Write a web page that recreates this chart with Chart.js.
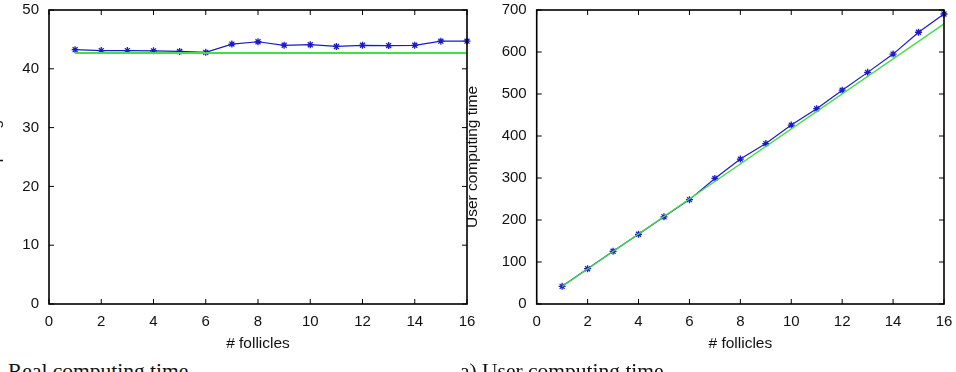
<!DOCTYPE html>
<html>
<head>
<meta charset="utf-8">
<script src="https://cdn.jsdelivr.net/npm/chart.js@4.4.1/dist/chart.umd.min.js"></script>
<style>
  html, body { margin: 0; padding: 0; background: #fff; overflow: hidden; }
  body { width: 956px; height: 372px; position: relative; }
  .box { position: absolute; top: 0; width: 493px; height: 357px; }
  .cap { position: absolute; top: 361px; font-family: "Liberation Serif", serif; font-size: 21.5px; line-height: 21.5px; color: #111; white-space: nowrap; }
</style>
</head>
<body>
<div class="box" style="left:-14px"><canvas id="realChart"></canvas></div>
<div class="box" style="left:463px"><canvas id="userChart"></canvas></div>
<div class="cap" style="left:8px">Real computing time</div>
<div class="cap" style="left:460px">a) User computing time</div>
<script>
// measured values, x = number of follicles
const follicles = [1, 2, 3, 4, 5, 6, 7, 8, 9, 10, 11, 12, 13, 14, 15, 16];
const realTime = [43.25, 43.1, 43.1, 43.05, 42.95, 42.8, 44.2, 44.6, 44.0, 44.1, 43.8, 44.0, 43.95, 44.0, 44.7, 44.7];
const userTime = [42, 84, 125.5, 166, 207.5, 248.5, 299, 345, 382, 426, 465, 509, 551.5, 595, 647, 690.5];

// reference lines (green), given by their end points
const refX = [1, 16];
const realRef = [42.7, 42.7];
const userRef = [41.7, 667];

Chart.defaults.font.family = "'Liberation Sans', Arial, sans-serif";
Chart.defaults.font.size = 15;
Chart.defaults.color = '#111';

// gnuplot style frame with inward ticks
const framePlugin = {
  id: 'frame',
  afterDraw(chart) {
    const { ctx, chartArea: a, scales } = chart;
    ctx.save();
    ctx.strokeStyle = '#000';
    ctx.lineWidth = 1;
    ctx.beginPath();
    scales.x.ticks.forEach(t => {
      const px = scales.x.getPixelForValue(t.value);
      ctx.moveTo(px, a.bottom); ctx.lineTo(px, a.bottom - 5);
      ctx.moveTo(px, a.top); ctx.lineTo(px, a.top + 5);
    });
    scales.y.ticks.forEach(t => {
      const py = scales.y.getPixelForValue(t.value);
      ctx.moveTo(a.left, py); ctx.lineTo(a.left + 5, py);
      ctx.moveTo(a.right, py); ctx.lineTo(a.right - 5, py);
    });
    ctx.stroke();
    ctx.lineWidth = 1.6;
    ctx.strokeRect(a.left, a.top, a.right - a.left, a.bottom - a.top);
    ctx.restore();
  }
};

function noPad(scale) {
  scale.paddingTop = 0;
  scale.paddingBottom = 0;
  scale.paddingLeft = 0;
  scale.paddingRight = 0;
}

function makeChart(id, values, refValues, yMax, yStep, yTitle, axisWidth, greenWidth) {
  const pts = follicles.map((f, i) => ({ x: f, y: values[i] }));
  const refPts = refX.map((f, i) => ({ x: f, y: refValues[i] }));
  return new Chart(document.getElementById(id), {
    type: 'line',
    data: {
      datasets: [{
        data: refPts,
        borderColor: '#44dd44',
        borderWidth: greenWidth,
        pointRadius: 0,
        clip: false
      }, {
        data: pts,
        borderColor: '#1a1acc',
        borderWidth: 1.2,
        pointStyle: 'star',
        pointRadius: 3.5,
        pointBorderColor: '#1a1acc',
        pointBorderWidth: 1.3,
        clip: false
      }]
    },
    options: {
      responsive: true,
      maintainAspectRatio: false,
      animation: false,
      layout: { autoPadding: false, padding: { top: 10, right: 12, left: 0, bottom: 0 } },
      plugins: { legend: { display: false }, tooltip: { enabled: false } },
      scales: {
        x: {
          type: 'linear',
          min: 0, max: 16,
          grid: { display: false, drawTicks: false },
          border: { display: false },
          ticks: { stepSize: 2, padding: 8.5 },
          title: { display: true, text: '# follicles', font: { size: 15.5 }, padding: { top: 0, bottom: 3.5 } },
          afterFit(scale) { scale.height = 53; noPad(scale); }
        },
        y: {
          min: 0, max: yMax,
          grid: { display: false, drawTicks: false },
          border: { display: false },
          ticks: { stepSize: yStep, padding: 10 },
          title: { display: true, text: yTitle, font: { size: 15.5 }, padding: { top: 0, bottom: 0 } },
          afterFit(scale) { scale.width = axisWidth; noPad(scale); }
        }
      }
    },
    plugins: [framePlugin]
  });
}

makeChart('realChart', realTime, realRef, 50, 10, 'Real computing time', 63, 2);
makeChart('userChart', userTime, userRef, 700, 100, 'User computing time', 73.7, 1.3);
</script>
</body>
</html>
